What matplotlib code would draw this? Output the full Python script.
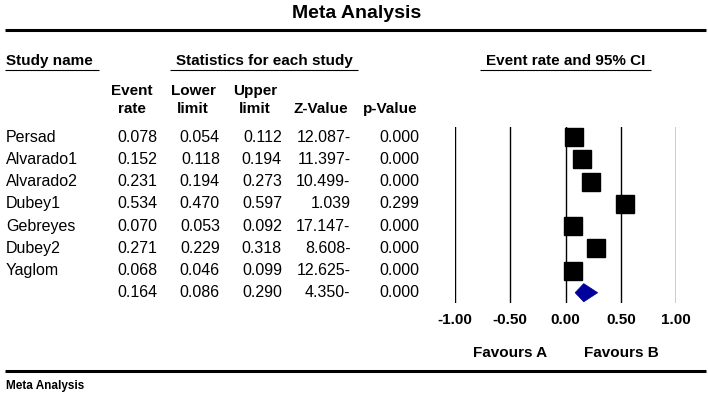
import matplotlib
matplotlib.use("Agg")
import matplotlib.pyplot as plt
from matplotlib.transforms import Affine2D, blended_transform_factory
from matplotlib.patches import Polygon
from matplotlib.lines import Line2D

plt.rcParams['font.family'] = ['Liberation Sans', 'DejaVu Sans']

# ---- data ----
studies = ["Persad", "Alvarado1", "Alvarado2", "Dubey1", "Gebreyes", "Dubey2", "Yaglom"]
event_rate = [0.078, 0.152, 0.231, 0.534, 0.070, 0.271, 0.068]
lower_limit = [0.054, 0.118, 0.194, 0.470, 0.053, 0.229, 0.046]
upper_limit = [0.112, 0.194, 0.273, 0.597, 0.092, 0.318, 0.099]
z_value = [-12.087, -11.397, -10.499, 1.039, -17.147, -8.608, -12.625]
p_value = [0.000, 0.000, 0.000, 0.299, 0.000, 0.000, 0.000]
summary_rate = 0.164
summary_lower = 0.086
summary_upper = 0.290
summary_z = -4.350
summary_p = 0.000
tick_values = [-1.00, -0.50, 0.00, 0.50, 1.00]
tick_labels = ["-1.00", "-0.50", "0.00", "0.50", "1.00"]

W, H = 708, 395
fig = plt.figure(figsize=(W / 100, H / 100), dpi=100)
pix = Affine2D().scale(1 / W, -1 / H).translate(0, 1) + fig.transFigure

# forest axes: x from -1 to 1 at pixels 455..676.2, y rows
x0, x1 = 455.0, 676.2
ytop, ybot = 126.7, 303.3
row0, rowstep = 137.3, 22.2
ax = fig.add_axes([x0 / W, 1 - ybot / H, (x1 - x0) / W, (ybot - ytop) / H])
ax.set_xlim(-1, 1)
ax.set_ylim((ybot - row0) / rowstep, (ytop - row0) / rowstep)
ax.axis('off')

for t in tick_values:
    ax.axvline(t, color='black', lw=1.0)

n = len(studies)
ax.plot(event_rate, list(range(n)), linestyle='none', marker='s', ms=12.8,
        color='black', mec='black')
srow = n
diamond = Polygon([(summary_lower, srow), (summary_rate, srow - 0.41),
                   (summary_upper, srow), (summary_rate, srow + 0.41)],
                  closed=True, facecolor='#00009C', edgecolor='#00009C', lw=0.5)
ax.add_patch(diamond)

# tick labels
tx = blended_transform_factory(ax.transData, pix)
for t, lab in zip(tick_values, tick_labels):
    fig.text(t, 320, lab, transform=tx, ha='center', va='center',
             fontsize=11, fontweight='bold')

fig.text(-0.5, 353.3, "Favours A", transform=tx, ha='center', va='center',
         fontsize=11, fontweight='bold')
fig.text(0.5, 353.3, "Favours B", transform=tx, ha='center', va='center',
         fontsize=11, fontweight='bold')

# title and rules
fig.text(357, 13, "Meta Analysis", transform=pix, ha='center', va='center',
         fontsize=14, fontweight='bold')

def hline(xa, xb, y, lw):
    fig.add_artist(Line2D([xa, xb], [y, y], transform=pix, color='black', lw=lw,
                          solid_capstyle='butt'))

hline(5, 706, 29.5, 2.2)
hline(5, 706, 371, 2.2)

# section headers
fig.text(6, 61, "Study name", transform=pix, ha='left', va='center',
         fontsize=11, fontweight='bold')
hline(5, 99, 70, 0.8)
fig.text(264, 61, "Statistics for each study", transform=pix, ha='center',
         va='center', fontsize=11, fontweight='bold')
hline(170, 358, 70, 0.8)
fig.text(565.5, 61, "Event rate and 95% CI", transform=pix, ha='center',
         va='center', fontsize=11, fontweight='bold')
hline(480, 651, 70, 0.8)

# column headers
col_heads = [(132, ["Event", "rate"]), (193, ["Lower", "limit"]),
             (255, ["Upper", "limit"]), (321, ["", "Z-Value"]), (390, ["", "p-Value"])]
for cx, lines in col_heads:
    for ly, s in zip([91, 109], lines):
        if s:
            fig.text(cx, ly, s, transform=pix, ha='center', va='center',
                     fontsize=11, fontweight='bold')

# table rows
rt = blended_transform_factory(pix, ax.transData)
fs = 11.5

def fmt_z(z):
    return f"{abs(z):.3f}-" if z < 0 else f"{z:.3f}"

rows = list(zip(studies, event_rate, lower_limit, upper_limit, z_value, p_value))
rows.append(("", summary_rate, summary_lower, summary_upper, summary_z, summary_p))
for i, (name, er, lo, up, z, p) in enumerate(rows):
    if name:
        fig.text(6, i, name, transform=rt, ha='left', va='center', fontsize=fs)
    fig.text(157, i, f"{er:.3f}", transform=rt, ha='right', va='center', fontsize=fs)
    fig.text(220, i, f"{lo:.3f}", transform=rt, ha='right', va='center', fontsize=fs)
    fig.text(282, i, f"{up:.3f}", transform=rt, ha='right', va='center', fontsize=fs)
    fig.text(350.5, i, fmt_z(z), transform=rt, ha='right', va='center', fontsize=fs)
    fig.text(419, i, f"{p:.3f}", transform=rt, ha='right', va='center', fontsize=fs)

fig.text(6, 385.5, "Meta Analysis", transform=pix, ha='left', va='center',
         fontsize=8.5, fontweight='bold')

fig.savefig("out.png", dpi=100)
